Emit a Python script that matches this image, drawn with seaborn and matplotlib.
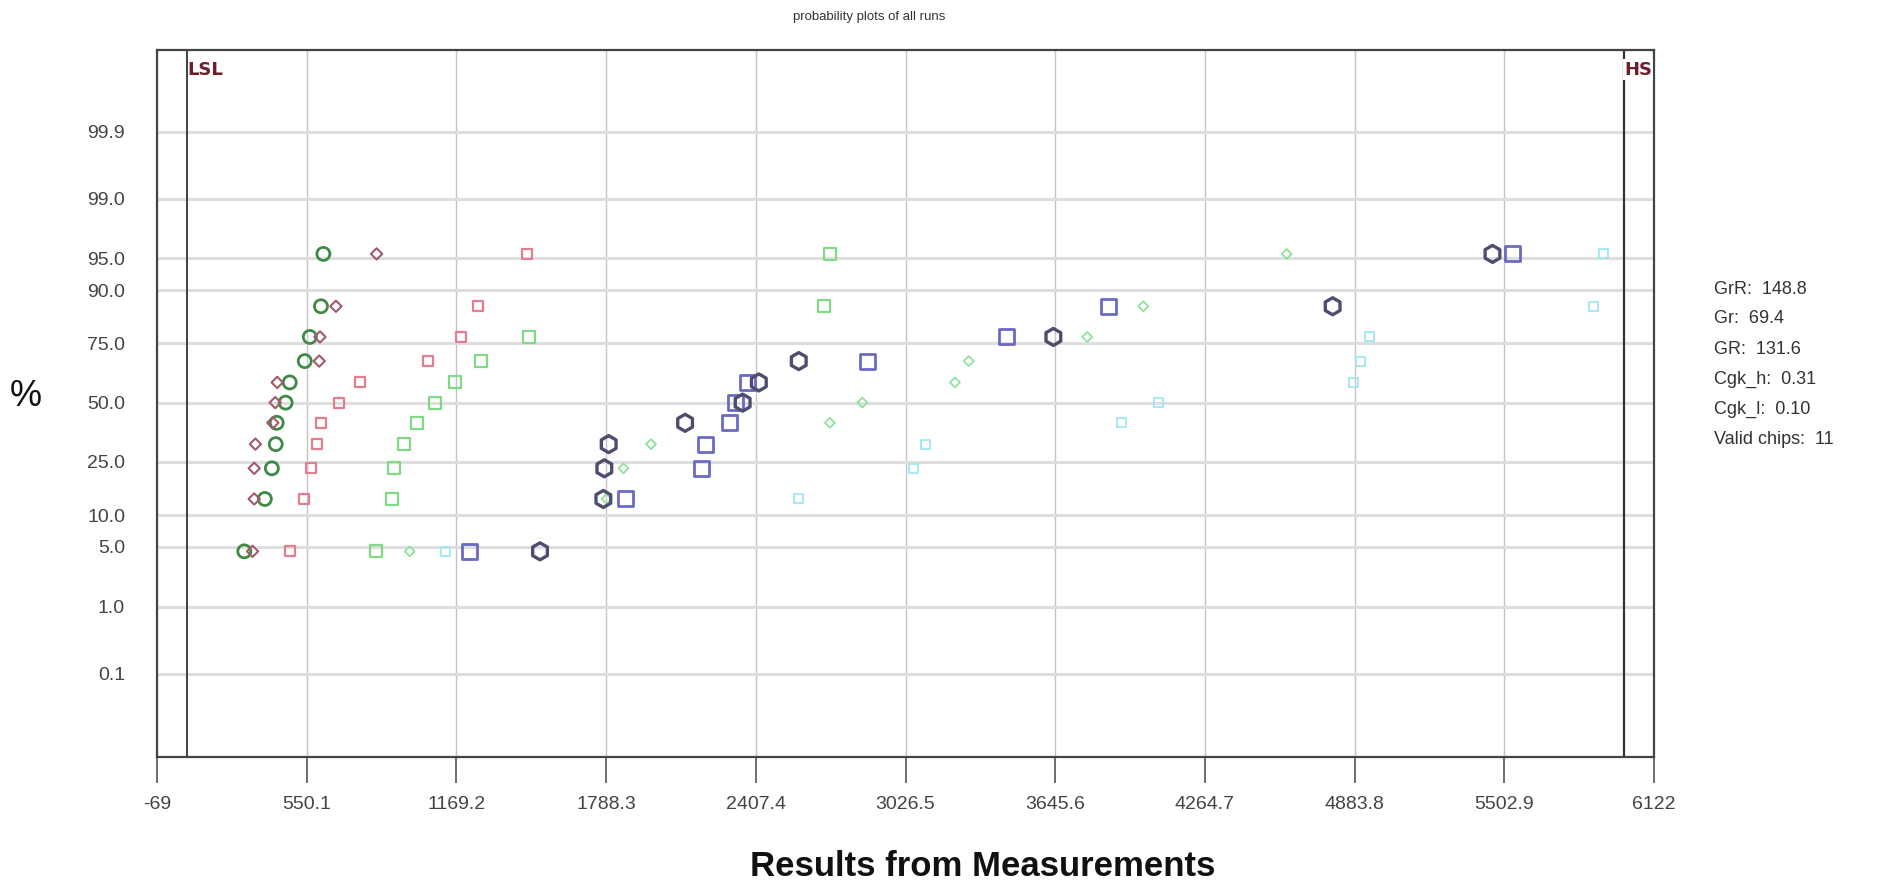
import numpy as np
import pandas as pd
import matplotlib
matplotlib.use('Agg')
import matplotlib.pyplot as plt
import matplotlib.transforms as mtransforms
import seaborn as sns
from statistics import NormalDist

# plotting positions (cumulative %) of the 11 chips in every run
pct = [4.5, 13.6, 22.7, 31.8, 40.9, 50.0, 59.1, 68.2, 77.3, 86.4, 95.5]

dark_green_circ = [292, 377, 406, 422, 426, 463, 480, 542, 563, 609, 619]
mauve_diam = [326, 333, 333, 338, 410, 420, 428, 602, 605, 671, 839]
pink_sq = [480, 538, 569, 592, 609, 683, 769, 1053, 1190, 1258, 1460]
lgreen_sq = [837, 902, 911, 952, 1006, 1081, 1163, 1271, 1470, 2688, 2715]
lgreen_diam = [976, 1790, 1860, 1974, 2714, 2848, 3231, 3288, 3778, 4010, 4603]
cyan_sq = [1123, 2584, 3061, 3109, 3919, 4072, 4878, 4907, 4947, 5870, 5915]
blue_sq = [1225, 1870, 2184, 2198, 2297, 2322, 2374, 2868, 3443, 3866, 5535]
navy_hex = [1515, 1777, 1781, 1799, 2115, 2353, 2420, 2585, 3638, 4793, 5454]

x_ticks = [-69, 550.1, 1169.2, 1788.3, 2407.4, 3026.5, 3645.6, 4264.7, 4883.8, 5502.9, 6122]
x_tick_labels = ['-69', '550.1', '1169.2', '1788.3', '2407.4', '3026.5', '3645.6',
                 '4264.7', '4883.8', '5502.9', '6122']
y_ticks = [0.1, 1.0, 5.0, 10.0, 25.0, 50.0, 75.0, 90.0, 95.0, 99.0, 99.9]
y_tick_labels = ['0.1', '1.0', '5.0', '10.0', '25.0', '50.0', '75.0', '90.0', '95.0', '99.0', '99.9']

lsl, hsl = 55, 5998
stats_lines = ['GrR:  148.8', 'Gr:  69.4', 'GR:  131.6', 'Cgk_h:  0.31', 'Cgk_l:  0.10', 'Valid chips:  11']

# run name -> (values, colour, marker, size px, edge width)
runs = {
    'run1': (dark_green_circ, '#3f8a45', 'o', 13, 2.0),
    'run2': (mauve_diam, '#a25a6c', 'D', 8, 1.5),
    'run3': (pink_sq, '#e47d90', 's', 10, 1.6),
    'run4': (lgreen_sq, '#7fd985', 's', 12, 1.6),
    'run5': (lgreen_diam, '#8fe39a', 'D', 7, 1.3),
    'run6': (cyan_sq, '#9fe8f2', 's', 9, 1.3),
    'run7': (blue_sq, '#6a6ac4', 's', 15, 2.0),
    'run8': (navy_hex, '#4d4d70', 'h', 17, 2.4),
}

rows = []
for name, (vals, *_rest) in runs.items():
    for v, p in zip(vals, pct):
        rows.append({'run': name, 'value': v, 'pct': p})
df = pd.DataFrame(rows)

sns.set_style('white')
plt.rcParams['font.family'] = ['Liberation Sans', 'DejaVu Sans']

nd = NormalDist()
probit = np.vectorize(lambda p: nd.inv_cdf(min(max(p / 100.0, 1e-9), 1 - 1e-9)), otypes=[float])
inv_probit = np.vectorize(lambda z: nd.cdf(z) * 100.0, otypes=[float])

fig = plt.figure(figsize=(18.86, 8.82), dpi=100)
ax = fig.add_axes([157 / 1886, 125 / 882, (1654 - 157) / 1886, (757 - 50) / 882])
ax.set_yscale('function', functions=(probit, inv_probit))

for name, (vals, col, mk, sz, lw) in runs.items():
    sub = df[df['run'] == name]
    sns.scatterplot(data=sub, x='value', y='pct', ax=ax, marker=mk, s=(sz * 0.72) ** 2,
                    facecolor='none', edgecolor=col, linewidth=lw, zorder=3, legend=False)

ax.set_xlim(-69, 6122)
ax.set_ylim(float(inv_probit(-4.04)), float(inv_probit(4.02)))
ax.set_xticks(x_ticks)
ax.set_xticklabels(x_tick_labels)
ax.set_yticks(y_ticks)
ax.set_yticklabels(y_tick_labels)
ax.yaxis.set_minor_locator(matplotlib.ticker.NullLocator())
ax.set_xlabel('')
ax.set_ylabel('')

ax.xaxis.grid(True, color='#c4c4c4', linewidth=1.0)
ax.yaxis.grid(True, color='#dedede', linewidth=2.2)
ax.set_axisbelow(True)
ax.tick_params(axis='x', direction='out', length=19, width=1.2, color='#555555',
               pad=9, labelsize=14, labelcolor='#444444', bottom=True)
ax.tick_params(axis='y', length=0, pad=23, labelsize=14, labelcolor='#444444')
for sp in ax.spines.values():
    sp.set_color('#444444')
    sp.set_linewidth(1.6)

# spec limits
ax.axvline(lsl, color='#333333', linewidth=1.3, zorder=2)
ax.axvline(hsl, color='#333333', linewidth=1.6, zorder=2)
trans = mtransforms.blended_transform_factory(ax.transData, ax.transAxes)
ax.text(lsl, 0.972, 'LSL', transform=trans, ha='left', va='center', fontsize=13,
        fontweight='bold', color='#6e1f2e', family=['DejaVu Sans'])
ax.text(hsl, 0.972, 'HS', transform=trans, ha='left', va='center', fontsize=13,
        fontweight='bold', color='#6e1f2e', family=['DejaVu Sans'], clip_on=False, zorder=5,
        bbox=dict(facecolor='white', edgecolor='none', pad=1))

fig.text(869 / 1886, 1 - 17 / 882, 'probability plots of all runs', ha='center', va='center',
         fontsize=9.5, color='#333333')
fig.text(26 / 1886, 1 - 396 / 882, '%', ha='center', va='center', fontsize=26, color='#111111')
fig.text(983 / 1886, 1 - 866 / 882, 'Results from Measurements', ha='center', va='center',
         fontsize=25, fontweight='bold', color='#111111')

for i, line in enumerate(stats_lines):
    fig.text(1714 / 1886, 1 - (289 + i * 30) / 882, line, ha='left', va='center',
             fontsize=13, color='#333333')

fig.savefig('out.png', dpi=100)
